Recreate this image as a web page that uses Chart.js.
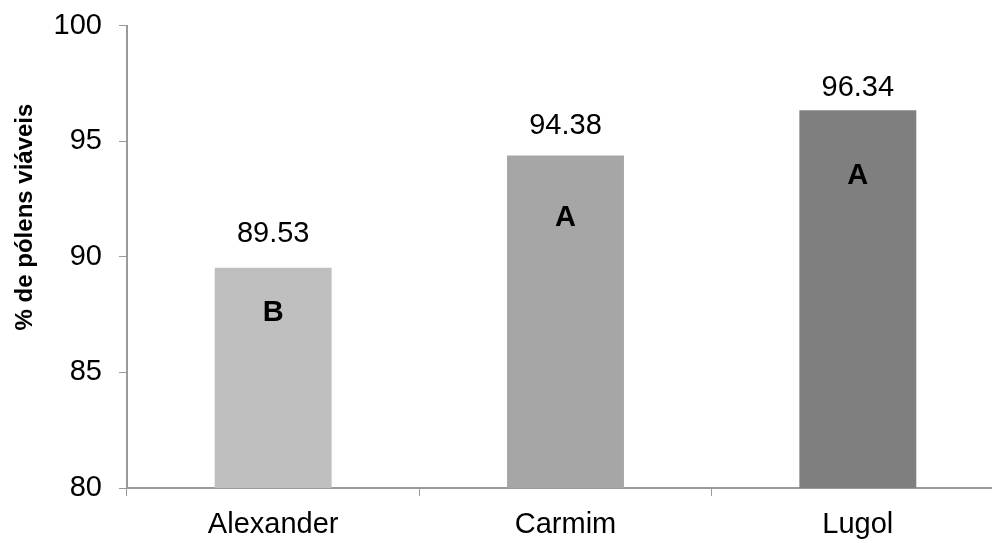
<!DOCTYPE html>
<html>
<head>
<meta charset="utf-8">
<script src="https://cdn.jsdelivr.net/npm/chart.js@4.4.0/dist/chart.umd.min.js"></script>
<style>
    html, body { margin: 0; padding: 0; background: #fff; overflow: hidden; }
    #wrap { width: 1004px; height: 543px; }
</style>
</head>
<body>
<div id="wrap"><canvas id="myChart"></canvas></div>
<script>
const categories = ['Alexander', 'Carmim', 'Lugol']
const values = [89.53, 94.38, 96.34]
const valueText = ['89.53', '94.38', '96.34']
const letters = ['B', 'A', 'A']
// where the text sits, in axis units
const labelAt = [90.99, 95.66, 97.32]
const letterAt = [87.58, 91.68, 93.5]
const yTicks = [80, 85, 90, 95, 100]

const barColors = ['#bfbfbf', '#a6a6a6', '#7f7f7f']
const axisColor = '#9a9a9a'
const font = 'Liberation Sans, Arial, sans-serif'

const textPlugin = {
    id: 'barText',
    afterDatasetsDraw(chart) {
        const ctx = chart.ctx
        const y = chart.scales.y
        const meta = chart.getDatasetMeta(0)
        ctx.save()
        ctx.textAlign = 'center'
        ctx.textBaseline = 'middle'
        ctx.fillStyle = '#000'
        meta.data.forEach((bar, i) => {
            ctx.font = '29px ' + font
            ctx.fillText(valueText[i], bar.x, y.getPixelForValue(labelAt[i]))
            ctx.font = 'bold 29px ' + font
            ctx.fillText(letters[i], bar.x, y.getPixelForValue(letterAt[i]))
        })
        // axis title
        ctx.translate(25, 217)
        ctx.rotate(-Math.PI / 2)
        ctx.font = 'bold 24px ' + font
        ctx.fillText('% de pólens viáveis', 0, 0)
        ctx.restore()
    }
}

const dataConfig = {
    labels: categories,
    datasets: [{
        data: values,
        backgroundColor: barColors,
        borderWidth: 0,
        categoryPercentage: 1,
        barPercentage: 0.4
    }]
}

const config = {
    type: 'bar',
    data: dataConfig,
    options: {
        responsive: true,
        maintainAspectRatio: false,
        animation: false,
        layout: { padding: { top: 25, left: 0, right: 0, bottom: 0 } },
        plugins: {
            legend: { display: false },
            tooltip: { enabled: false }
        },
        scales: {
            x: {
                grid: { drawOnChartArea: false, drawTicks: true, tickLength: 8, tickColor: axisColor, offset: true },
                border: { color: axisColor, width: 2 },
                ticks: { color: '#000', font: { family: font, size: 29 }, padding: 12 },
                afterFit(scale) { scale.height = 55 }
            },
            y: {
                min: 80,
                max: 100,
                afterBuildTicks(scale) { scale.ticks = yTicks.map(v => ({ value: v })) },
                grid: { drawOnChartArea: false, drawTicks: true, tickLength: 8, tickColor: axisColor },
                border: { color: axisColor, width: 2 },
                ticks: { color: '#000', font: { family: font, size: 29, lineHeight: 0.6 }, padding: 17 },
                afterFit(scale) { scale.width = 127 }
            }
        }
    },
    plugins: [textPlugin]
}

const myChart = new Chart(document.getElementById('myChart'), config)
</script>
</body>
</html>
